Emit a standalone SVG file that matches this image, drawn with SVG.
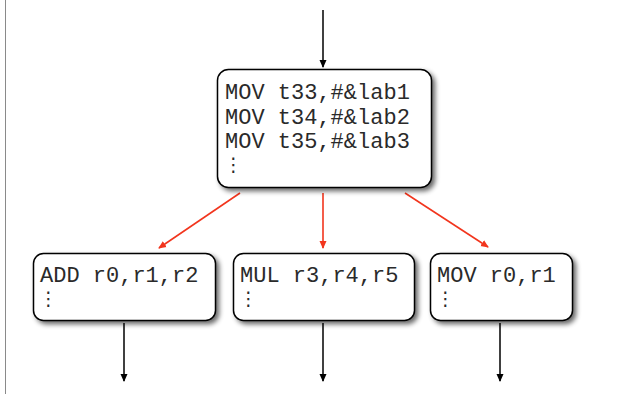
<svg xmlns="http://www.w3.org/2000/svg" width="638" height="394" viewBox="0 0 638 394">
<style>
.box{fill:#fff;stroke:#000;stroke-width:1.5;filter:url(#sh)}
.t{font-family:"Liberation Mono","Courier New",monospace;font-size:22px;fill:#2a2a2a}
.d{font-family:"DejaVu Sans","DejaVu Sans Mono",sans-serif;font-size:19px;fill:#2a2a2a}
.blk{stroke:#000;stroke-width:1.5;fill:none;marker-end:url(#ab)}
.red{stroke:#f2351d;stroke-width:1.6;fill:none;marker-end:url(#ar)}
</style>
<defs>
<filter id="sh" x="-10%" y="-10%" width="130%" height="130%">
<feGaussianBlur in="SourceAlpha" stdDeviation="2.5"/>
<feOffset dx="3" dy="3" result="b"/>
<feComponentTransfer><feFuncA type="linear" slope="0.6"/></feComponentTransfer>
<feMerge><feMergeNode/><feMergeNode in="SourceGraphic"/></feMerge>
</filter>
<marker id="ab" markerWidth="8" markerHeight="8" refX="7" refY="4" orient="auto" markerUnits="userSpaceOnUse">
<path d="M0,0.5 L8,4 L0,7.5 Z" fill="#000"/>
</marker>
<marker id="ar" markerWidth="8" markerHeight="8" refX="7" refY="4" orient="auto" markerUnits="userSpaceOnUse">
<path d="M0,0.5 L8,4 L0,7.5 Z" fill="#f2351d"/>
</marker>
</defs>
<rect width="638" height="394" fill="#fff"/>
<line x1="5.5" y1="0" x2="5.5" y2="394" stroke="#8a8a8a" stroke-width="1"/>
<g id="connectors">
<line class="blk" x1="323" y1="10" x2="323" y2="67"/>
<line class="red" x1="240" y1="193" x2="159" y2="248"/>
<line class="red" x1="323" y1="193" x2="323" y2="248"/>
<line class="red" x1="405" y1="193" x2="488" y2="247"/>
<line class="blk" x1="124" y1="323" x2="124" y2="381"/>
<line class="blk" x1="323" y1="323" x2="323" y2="381"/>
<line class="blk" x1="500" y1="323" x2="500" y2="381"/>
</g>
<g id="top">
<rect class="box" x="217.5" y="69.5" width="214" height="118" rx="11"/>
<text class="t" x="225" y="99">MOV t33,#&amp;lab1</text>
<text class="t" x="225" y="123.5">MOV t34,#&amp;lab2</text>
<text class="t" x="225" y="147.5">MOV t35,#&amp;lab3</text>
<text class="d" x="224" y="171">⋮</text>
</g>
<g id="add">
<rect class="box" x="33.5" y="253.5" width="182" height="67" rx="10"/>
<text class="t" x="40" y="282">ADD r0,r1,r2</text>
<text class="d" x="39" y="305">⋮</text>
</g>
<g id="mul">
<rect class="box" x="233.5" y="253.5" width="181" height="67" rx="10"/>
<text class="t" x="240" y="282">MUL r3,r4,r5</text>
<text class="d" x="239" y="305">⋮</text>
</g>
<g id="mov">
<rect class="box" x="430.5" y="253.5" width="142" height="67" rx="10"/>
<text class="t" x="437" y="282">MOV r0,r1</text>
<text class="d" x="436" y="305">⋮</text>
</g>
</svg>
